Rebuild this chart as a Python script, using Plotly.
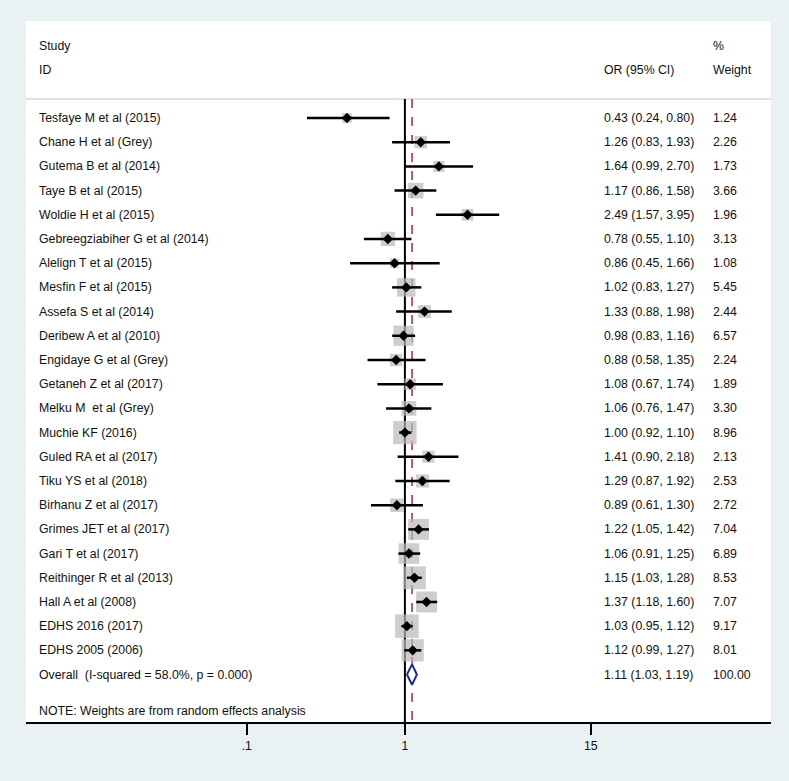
import plotly.graph_objects as go
import math

studies = ["Tesfaye M et al (2015)", "Chane H et al (Grey)", "Gutema B et al (2014)",
           "Taye B et al (2015)", "Woldie H et al (2015)", "Gebreegziabiher G et al (2014)",
           "Alelign T et al (2015)", "Mesfin F et al (2015)", "Assefa S et al (2014)",
           "Deribew A et al (2010)", "Engidaye G et al (Grey)", "Getaneh Z et al (2017)",
           "Melku M  et al (Grey)", "Muchie KF (2016)", "Guled RA et al (2017)",
           "Tiku YS et al (2018)", "Birhanu Z et al (2017)", "Grimes JET et al (2017)",
           "Gari T et al (2017)", "Reithinger R et al (2013)", "Hall A et al (2008)",
           "EDHS 2016 (2017)", "EDHS 2005 (2006)"]
or_est = [0.43, 1.26, 1.64, 1.17, 2.49, 0.78, 0.86, 1.02, 1.33, 0.98, 0.88, 1.08, 1.06,
          1.00, 1.41, 1.29, 0.89, 1.22, 1.06, 1.15, 1.37, 1.03, 1.12]
ci_low = [0.24, 0.83, 0.99, 0.86, 1.57, 0.55, 0.45, 0.83, 0.88, 0.83, 0.58, 0.67, 0.76,
          0.92, 0.90, 0.87, 0.61, 1.05, 0.91, 1.03, 1.18, 0.95, 0.99]
ci_high = [0.80, 1.93, 2.70, 1.58, 3.95, 1.10, 1.66, 1.27, 1.98, 1.16, 1.35, 1.74, 1.47,
           1.10, 2.18, 1.92, 1.30, 1.42, 1.25, 1.28, 1.60, 1.12, 1.27]
weights = [1.24, 2.26, 1.73, 3.66, 1.96, 3.13, 1.08, 5.45, 2.44, 6.57, 2.24, 1.89, 3.30,
           8.96, 2.13, 2.53, 2.72, 7.04, 6.89, 8.53, 7.07, 9.17, 8.01]

overall_label = "Overall  (I-squared = 58.0%, p = 0.000)"
overall_est, overall_low, overall_high, overall_weight = 1.11, 1.03, 1.19, 100.00
note_text = "NOTE: Weights are from random effects analysis"

tick_vals = [0.1, 1, 15]
tick_text = [".1", "1", "15"]

FONT = "Liberation Sans, Arial, Helvetica, sans-serif"
FSIZE = 12.3
n = len(studies)
rows = list(range(n))
overall_row = n

fig = go.Figure()

# weight boxes
sizes = [1.5 + 7.3 * math.sqrt(w) for w in weights]
fig.add_trace(go.Scatter(x=or_est, y=rows, mode="markers",
                         marker=dict(symbol="square", size=sizes, color="#b9b9b9", line=dict(width=0)),
                         hoverinfo="skip", showlegend=False))

# CI lines
cx, cy = [], []
for i in rows:
    cx += [ci_low[i], ci_high[i], None]
    cy += [i, i, None]
fig.add_trace(go.Scatter(x=cx, y=cy, mode="lines", line=dict(color="black", width=2.5),
                         hoverinfo="skip", showlegend=False))

# point estimates
fig.add_trace(go.Scatter(x=or_est, y=rows, mode="markers",
                         marker=dict(symbol="diamond", size=8, color="black", line=dict(width=0)),
                         hoverinfo="skip", showlegend=False))

# overall diamond
h = 0.42
fig.add_trace(go.Scatter(x=[overall_low, overall_est, overall_high, overall_est, overall_low],
                         y=[overall_row, overall_row - h, overall_row, overall_row + h, overall_row],
                         mode="lines", fill="toself", fillcolor="white",
                         line=dict(color="#1e2a85", width=2),
                         hoverinfo="skip", showlegend=False))

y_sep = -0.785
y_bottom = 24.96

shapes = [
    dict(type="line", xref="paper", yref="y", x0=0, x1=1, y0=y_sep, y1=y_sep,
         line=dict(color="#c4c4c4", width=1.2), layer="below"),
    dict(type="line", xref="x", yref="y", x0=1, x1=1, y0=y_sep, y1=y_bottom,
         line=dict(color="black", width=2), layer="below"),
    dict(type="line", xref="x", yref="y", x0=overall_est, x1=overall_est, y0=y_sep, y1=y_bottom,
         line=dict(color="#a03a48", width=1.6, dash="dash"), layer="below"),
]

annotations = []
x_lab = (37 - 26) / 745
x_or = (602 - 26) / 745
x_wt = (711 - 26) / 745

def ann(x, y, text):
    annotations.append(dict(x=x, y=y, xref="paper", yref="y", text=text, showarrow=False,
                            xanchor="left", yanchor="middle",
                            font=dict(family=FONT, size=FSIZE, color="#111111")))

ann(x_lab, -2.975, "Study")
ann(x_lab, -1.983, "ID")
ann(x_or, -1.983, "OR (95% CI)")
ann(x_wt, -2.975, "%")
ann(x_wt, -1.983, "Weight")
for i in rows:
    ann(x_lab, i, studies[i])
    ann(x_or, i, f"{or_est[i]:.2f} ({ci_low[i]:.2f}, {ci_high[i]:.2f})")
    ann(x_wt, i, f"{weights[i]:.2f}")
ann(x_lab, overall_row, overall_label)
ann(x_or, overall_row, f"{overall_est:.2f} ({overall_low:.2f}, {overall_high:.2f})")
ann(x_wt, overall_row, f"{overall_weight:.2f}")
ann(x_lab, 24.5, note_text)

fig.update_layout(
    width=789, height=781, autosize=False,
    margin=dict(l=26, r=18, t=21, b=59, pad=0),
    paper_bgcolor="#eaf1f3", plot_bgcolor="white",
    shapes=shapes, annotations=annotations,
    font=dict(family=FONT, size=FSIZE, color="#111111"),
    xaxis=dict(type="log", range=[-2.397, 2.316], tickvals=tick_vals, ticktext=tick_text,
               ticks="outside", ticklen=11, tickwidth=1.8, tickcolor="black",
               showline=True, linecolor="black", linewidth=1.8, showgrid=False,
               zeroline=False, tickfont=dict(family=FONT, size=FSIZE, color="#111111")),
    yaxis=dict(range=[y_bottom, -4.008], showticklabels=False, showgrid=False,
               zeroline=False, showline=False, ticks=""),
)

fig.write_html("out.html", config={"displayModeBar": False},
               post_script="document.body.style.margin='0px';")
